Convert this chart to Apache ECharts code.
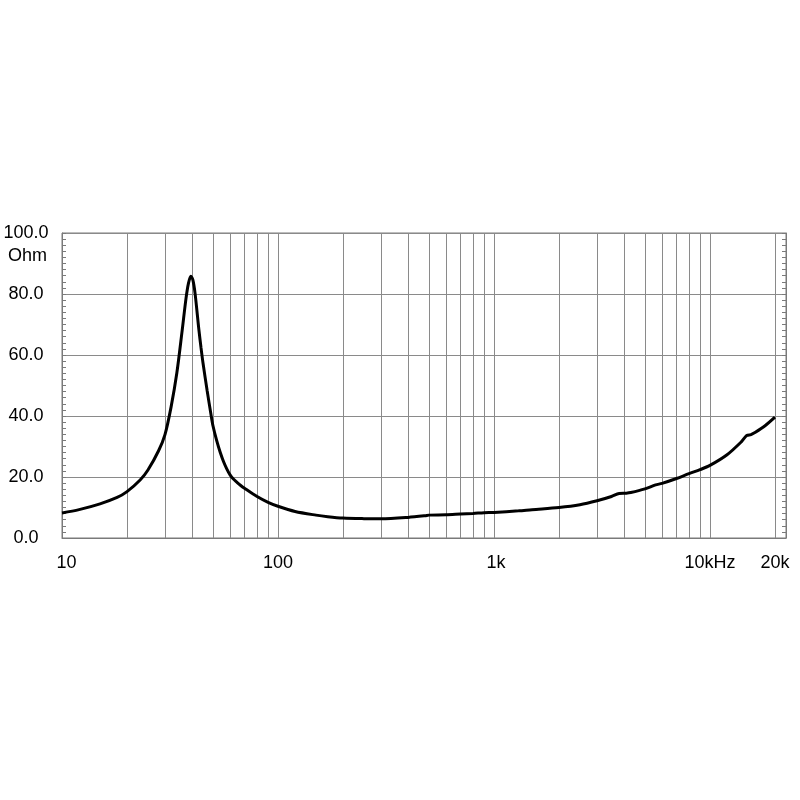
<!DOCTYPE html>
<html><head><meta charset="utf-8">
<script src="https://cdn.jsdelivr.net/npm/echarts@6/dist/echarts.min.js"></script>
<style>html,body{margin:0;background:#fff}#c{width:800px;height:800px}</style>
</head><body><div id="c"></div>
<script>
// Frequency (Hz) and impedance magnitude (Ohm)
const freqHz = [10, 12, 15, 18, 20, 23, 25, 28, 30, 32, 34, 36, 37.5, 38.5, 39.5, 40.3, 41.3, 43, 44, 45, 47, 49, 50, 52, 54, 56, 58, 60, 62, 64.5, 67, 70, 80, 90, 100, 120, 150, 170, 200, 250, 300, 400, 480, 500, 600, 700, 800, 900, 1000, 1300, 1500, 2000, 2500, 3000, 3500, 3800, 4100, 4300, 5000, 5600, 6000, 7000, 8000, 9000, 10000, 12000, 14000, 14800, 15500, 16000, 18000, 20000];
const impedanceOhm = [8.2, 9.3, 11.2, 13.3, 15.2, 19.0, 22.3, 28.6, 34.0, 43.0, 54.0, 68.0, 78.5, 83.5, 85.8, 84.8, 80.3, 68.5, 62.5, 57.2, 48.3, 40.3, 36.8, 32.0, 28.1, 25.0, 22.6, 20.7, 19.4, 18.3, 17.3, 16.3, 13.6, 11.7, 10.4, 8.7, 7.5, 7.0, 6.55, 6.35, 6.3, 6.75, 7.3, 7.5, 7.6, 7.85, 8.05, 8.3, 8.4, 8.9, 9.3, 10.0, 10.9, 12.2, 13.6, 14.6, 14.7, 14.9, 16.1, 17.4, 17.9, 19.5, 21.1, 22.4, 23.8, 27.3, 31.6, 33.6, 33.9, 34.4, 36.8, 39.6];

// Axis ticks / labels
const xGridValues = [10, 20, 30, 40, 50, 60, 70, 80, 90, 100, 200, 300, 400, 500, 600, 700, 800, 900, 1000, 2000, 3000, 4000, 5000, 6000, 7000, 8000, 9000, 10000, 20000];
const xLabelValues = [10, 100, 1000, 10000, 20000];
const xLabelTexts = ['10', '100', '1k', '10kHz', '20k'];
const yMin = 0, yMax = 100, yStep = 20;
const yUnit = 'Ohm';

const FONT = '"Liberation Sans", Arial, sans-serif';
const GRID_COLOR = '#8a8a8a';
const AXIS_COLOR = '#7a7a7a';

const chart = echarts.init(document.getElementById('c'), null, {renderer: 'canvas'});
const data = freqHz.map((f, i) => [f, impedanceOhm[i]]);

const yCommon = {
  type: 'value', min: yMin, max: yMax, interval: yStep,
  axisLine: {show: true, lineStyle: {color: AXIS_COLOR, width: 1}},
  axisTick: {show: true, inside: true, length: 4, lineStyle: {color: AXIS_COLOR}},
  minorTick: {show: true, splitNumber: 10, length: 4, lineStyle: {color: AXIS_COLOR}}
};

chart.setOption({
  animation: false,
  backgroundColor: '#fff',
  grid: {left: 62, right: 14, top: 233, bottom: 262, show: true, borderColor: AXIS_COLOR, borderWidth: 1, containLabel: false},
  xAxis: {
    type: 'log', logBase: 10, min: 10, max: 22500,
    axisLine: {show: true, onZero: false, lineStyle: {color: AXIS_COLOR, width: 1}},
    axisTick: {show: false, customValues: xGridValues},
    splitLine: {show: true, lineStyle: {color: GRID_COLOR, width: 1}},
    axisLabel: {
      customValues: xLabelValues,
      margin: 16,
      color: '#000', fontFamily: FONT, fontSize: 18,
      formatter: function (v) {
        const r = Math.round(v);
        const i = xLabelValues.indexOf(r);
        if (i === 0) return '{a|' + xLabelTexts[i] + '}';
        if (i === 2) return '{b|' + xLabelTexts[i] + '}';
        return i >= 0 ? xLabelTexts[i] : '';
      },
      rich: {
        a: {fontFamily: FONT, fontSize: 18, color: '#000', padding: [0, 0, 0, 9]},
        b: {fontFamily: FONT, fontSize: 18, color: '#000', padding: [0, 0, 0, 4]}
      }
    }
  },
  yAxis: [
    Object.assign({}, yCommon, {
      position: 'left',
      splitLine: {show: true, lineStyle: {color: GRID_COLOR, width: 1}},
      axisLabel: {
        show: true, align: 'center', margin: 36,
        color: '#000', fontFamily: FONT, fontSize: 18,
        formatter: v => v.toFixed(1)
      }
    }),
    Object.assign({}, yCommon, {
      position: 'right',
      splitLine: {show: false},
      axisLabel: {show: false}
    })
  ],
  graphic: [{
    type: 'text', left: 8, top: 247,
    style: {text: yUnit, fill: '#000', font: '18px ' + FONT}
  }],
  series: [{
    type: 'line', xAxisIndex: 0, yAxisIndex: 0,
    data: data, showSymbol: false, symbol: 'none',
    smooth: 0.3,
    lineStyle: {color: '#000', width: 3},
    z: 10
  }]
});
</script>
</body></html>
